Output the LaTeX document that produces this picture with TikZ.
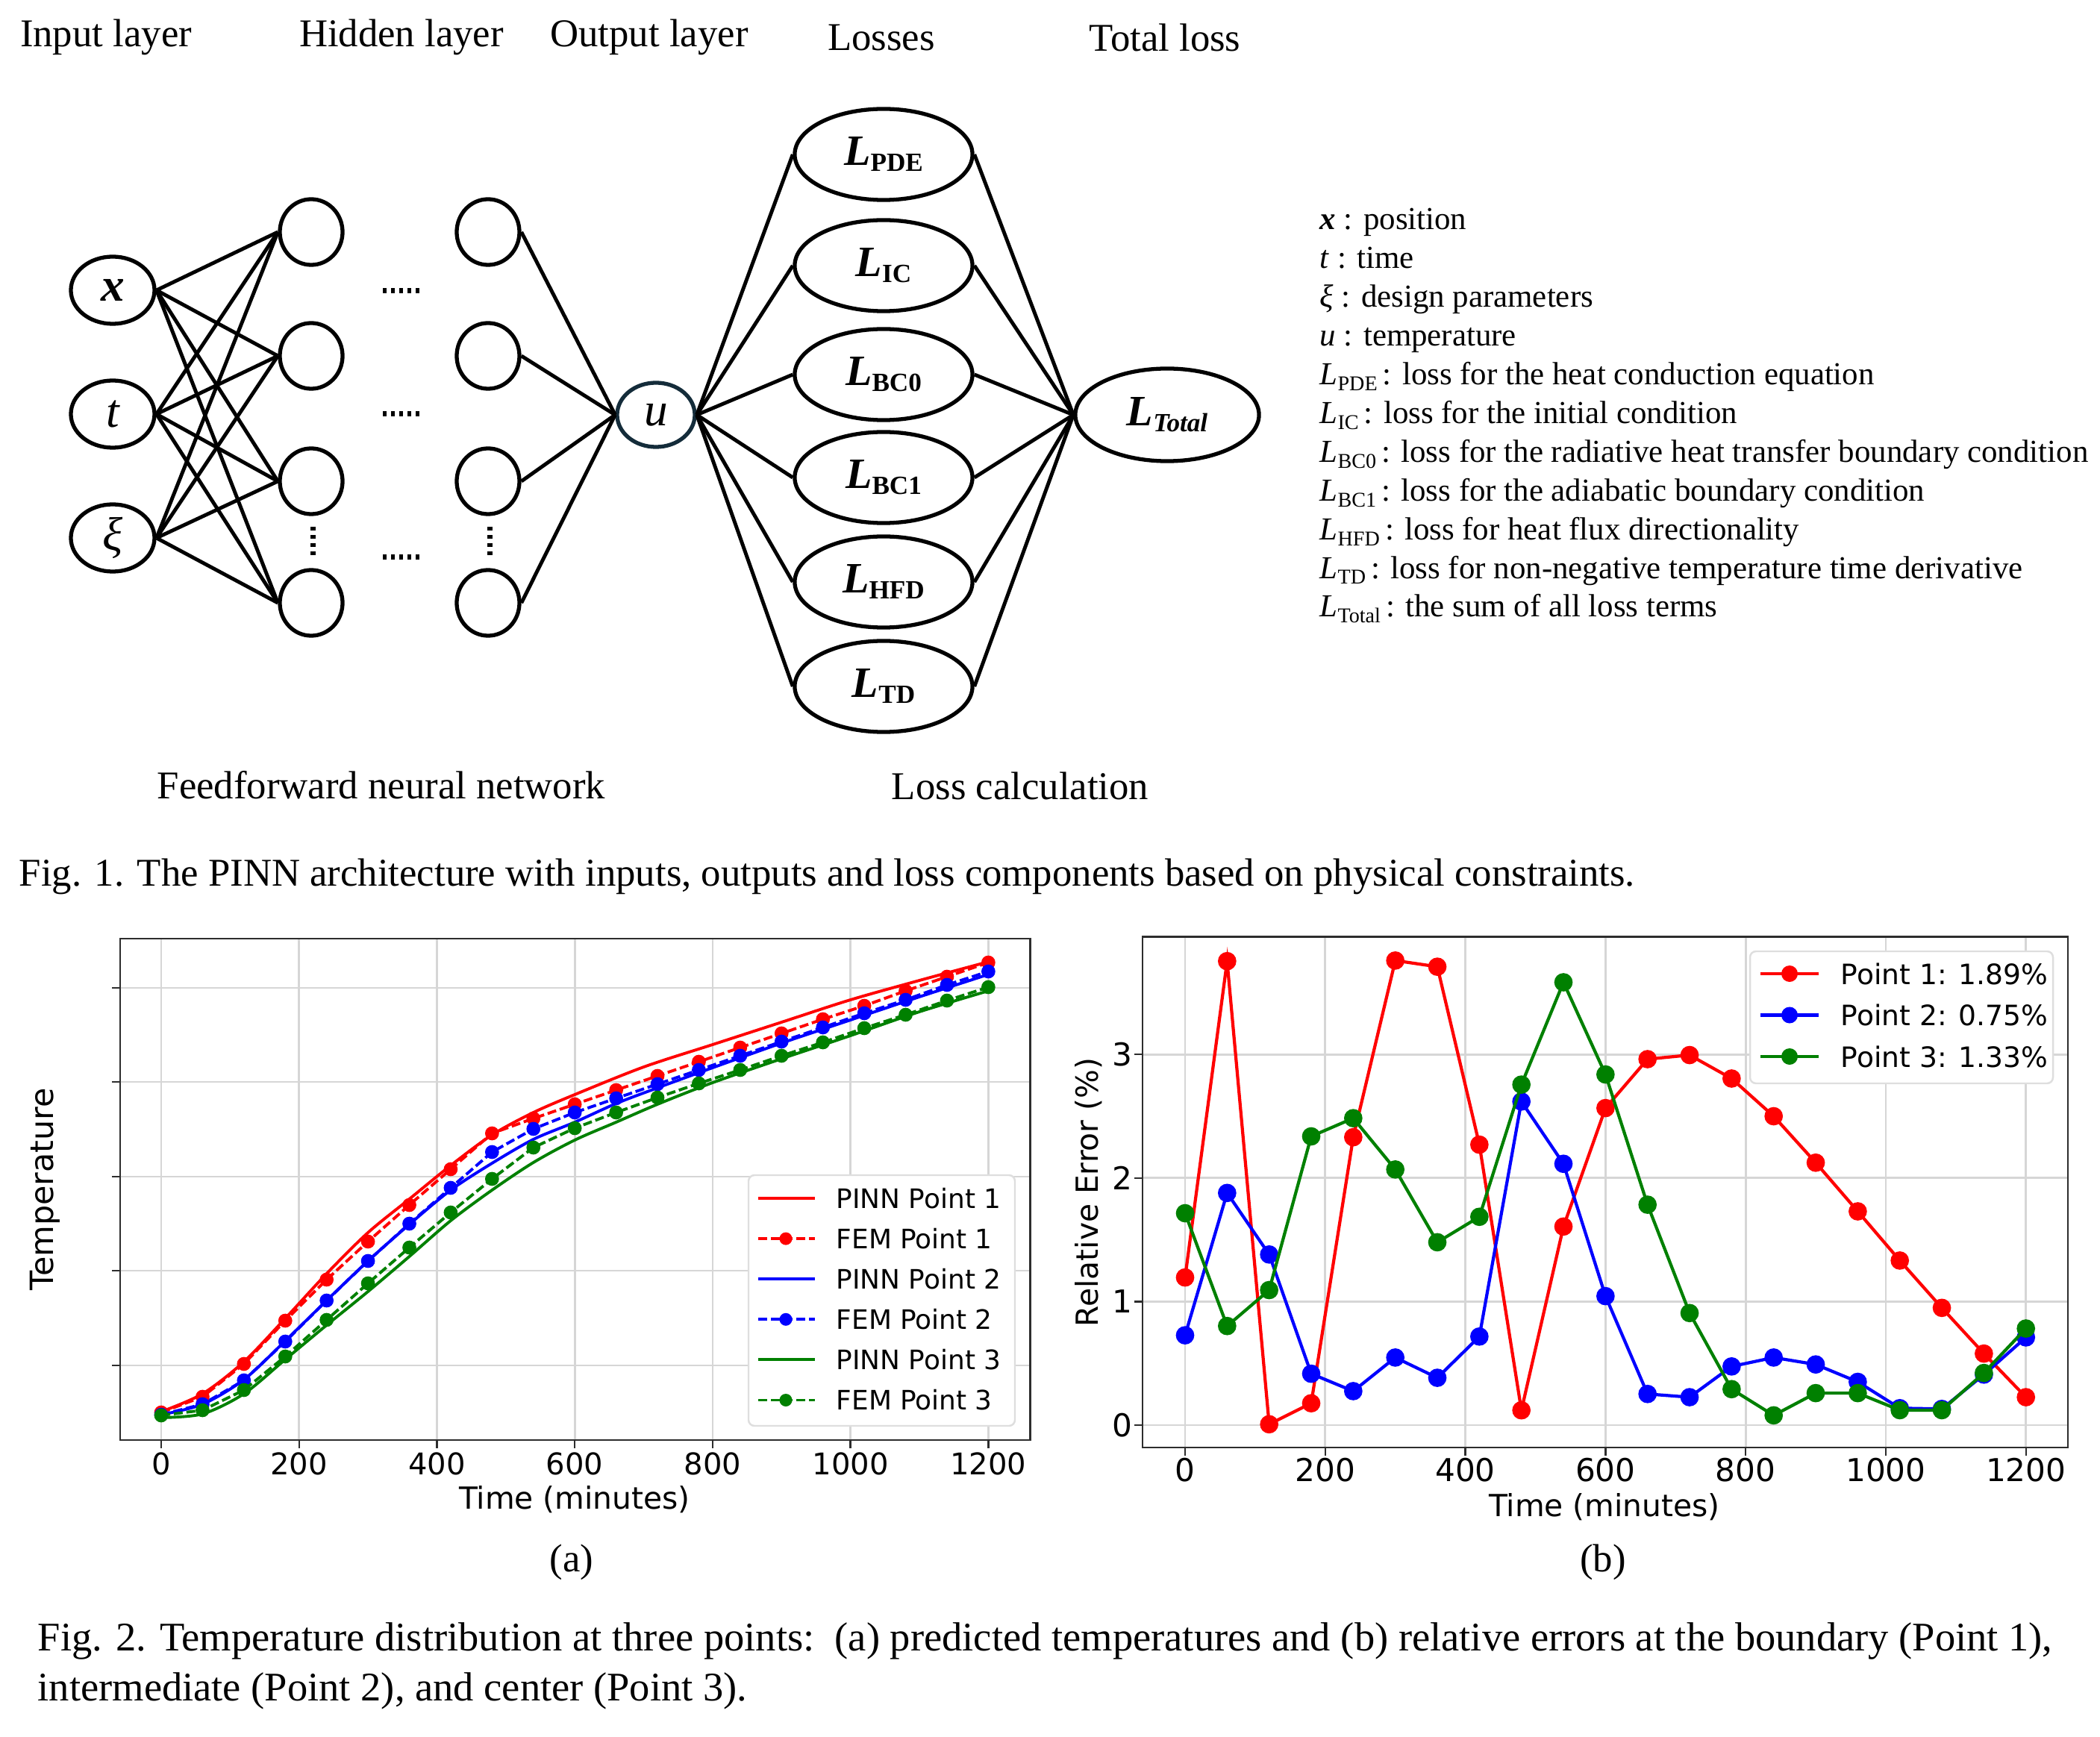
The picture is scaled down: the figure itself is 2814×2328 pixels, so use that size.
\documentclass[tikz,border=0pt]{standalone}
\usepackage{fontspec}
\setmainfont{Liberation Serif}
\newfontfamily\plotfont{DejaVu Sans}
\usetikzlibrary{shapes.geometric,positioning}

\definecolor{mplgreen}{RGB}{0,128,0}
\definecolor{gridgray}{RGB}{214,214,214}
\definecolor{axisgray}{RGB}{45,45,45}
\definecolor{outring}{RGB}{20,44,58}
\definecolor{legendgray}{RGB}{222,222,222}

\newcommand\lsub[1]{\raisebox{-.3ex}{\fontsize{10}{10}\selectfont\bfseries\upshape #1}}
\newcommand\dsub[1]{\raisebox{-.4ex}{\fontsize{8}{8}\selectfont\upshape #1}}

\tikzset{
    neuron/.style={draw, ellipse, line width=1.5pt, inner sep=0pt,
        minimum width=.84cm, minimum height=.88cm},
    input neuron/.style={neuron, minimum width=1.12cm, minimum height=.9cm,
        font=\fontsize{18}{18}\selectfont\itshape},
    loss term/.style={draw, ellipse, line width=1.5pt, inner sep=0pt,
        minimum width=2.38cm, minimum height=1.22cm,
        font=\fontsize{16.5}{16.5}\selectfont\bfseries\itshape},
    net link/.style={line width=1.4pt},
    layer title/.style={font=\fontsize{15}{18}\selectfont, inner sep=0pt},
    caption line/.style={font=\fontsize{15.5}{18}\selectfont, inner sep=0pt, anchor=base west},
    dots/.style={line width=.07cm, dash pattern=on .05cm off .06cm},
    grid line/.style={gridgray, line width=.8pt},
    axis frame/.style={axisgray, line width=.7pt},
    tick label/.style={font=\plotfont\fontsize{11.4}{12}\selectfont, inner sep=0pt},
    axis label/.style={font=\plotfont\fontsize{11.6}{12}\selectfont, inner sep=0pt},
    legend frame/.style={draw=legendgray, fill=white, rounded corners=.08cm, line width=.7pt},
    pinn/.style={line width=1.1pt},
    fem/.style={line width=1.1pt, dash pattern=on .12cm off .05cm,
        mark=*, mark size=2.1pt, mark options={solid}},
    err/.style={line width=1.2pt, mark=*, mark size=2.9pt},
}

\begin{document}
\begin{tikzpicture}[x=.01cm, y=-.01cm]
\useasboundingbox (0,0) rectangle (2814,2328);

% layer titles
\foreach \k/\xx/\txt in {1/142/Input layer, 2/538/Hidden layer, 3/870/Output layer, 4/1181/Losses, 5/1561/Total loss}
    \node[layer title] (title\k) at (\xx,50) {\txt};

% network
\node[input neuron] (x) at (151,389) {\bfseries x};
\node[input neuron] (t) at (151,555) {t};
\node[input neuron] (xi) at (151,721) {ξ};
\foreach \j/\yy in {1/311,2/477,3/645,4/808} {
    \node[neuron] (ha\j) at (417,\yy) {};
    \node[neuron] (hb\j) at (654,\yy) {};
}
\node[neuron, draw=outring, minimum width=1.04cm, minimum height=.86cm,
    font=\fontsize{18}{18}\selectfont\itshape] (u) at (879,556) {u};

\foreach \i in {x,t,xi}
    \foreach \j in {1,...,4}
        \draw[net link] (\i.east) -- (ha\j.west);
\foreach \j in {1,...,4}
    \draw[net link] (hb\j.east) -- (u.west);

\foreach \yy in {390,555,747}
    \draw[dots] (513,\yy) -- (566,\yy);
\foreach \xx in {419,656}
    \draw[dots] (\xx,706) -- (\xx,748);

% losses
\node[loss term, minimum width=2.46cm, minimum height=1.24cm] (total) at (1564,556) {L\lsub{\itshape Total}};
\foreach \n/\yy in {PDE/207,IC/356,BC0/502,BC1/640,HFD/780,TD/920} {
    \node[loss term] (l\n) at (1184,\yy) {L\lsub{\n}};
    \draw[net link] (u.east) -- (l\n.west);
    \draw[net link] (l\n.east) -- (total.west);
}

\node[layer title] (ffn) at (511,1052) {Feedforward neural network};
\node[layer title] (losscalc) at (1367,1053) {Loss calculation};

% notation
\foreach \i/\txt in {0/{\textbf{\textit{x}} : position},
        1/{\textit{t} : time},
        2/{\textit{ξ} : design parameters},
        3/{\textit{u} : temperature},
        4/{\textit{L}\dsub{PDE}\,: loss for the heat conduction equation},
        5/{\textit{L}\dsub{IC}\,: loss for the initial condition},
        6/{\textit{L}\dsub{BC0}\,: loss for the radiative heat transfer boundary condition},
        7/{\textit{L}\dsub{BC1}\,: loss for the adiabatic boundary condition},
        8/{\textit{L}\dsub{HFD}\,: loss for heat flux directionality},
        9/{\textit{L}\dsub{TD}\,: loss for non-negative temperature time derivative},
        10/{\textit{L}\dsub{Total}\,: the sum of all loss terms}}
    \node[anchor=base west, inner sep=0pt, font=\fontsize{12.2}{14}\selectfont] (note\i) at (1768,{308+51.9*\i}) {\txt};

\node[layer title, anchor=base west] (cap1) at (25,1187)
    {Fig. 1. The PINN architecture with inputs, outputs and loss components based on physical constraints.};

% plot (a)
\begin{scope}[shift={(216,0)}, x=.009225cm]
    \foreach \t in {0,200,...,1200} {
        \draw[grid line] (\t,1258) -- (\t,1930);
        \draw[axis frame] (\t,1930) -- (\t,1941);
        \node[tick label] (ta\t) at (\t,1962) {\t};
    }
    \foreach \yy in {1324,1450,1577,1703,1830} {
        \draw[grid line] (-59.6,\yy) -- (1260.7,\yy);
        \draw[axis frame] (-59.6,\yy) -- (-71.5,\yy);
    }
    \draw[pinn, red] plot[smooth] coordinates {(0,1892) (60,1868) (120,1825) (180,1767) (240,1707) (300,1652) (360,1607) (420,1562) (480,1521) (540,1491) (600,1467) (700,1430) (800,1400) (900,1370) (1000,1340) (1100,1314) (1200,1289)};
    \draw[fem, red] plot coordinates {(0,1893) (60,1872) (120,1828) (180,1770) (240,1715) (300,1664) (360,1615) (420,1567) (480,1519) (540,1499) (600,1480) (660,1461) (720,1442) (780,1423) (840,1404) (900,1385) (960,1366) (1020,1348) (1080,1328) (1140,1309) (1200,1290)};
    \draw[pinn, blue] plot[smooth] coordinates {(0,1896) (60,1882) (120,1849) (180,1797) (240,1743) (300,1690) (360,1641) (420,1595) (480,1559) (540,1527) (600,1504) (660,1479) (720,1458) (800,1431) (900,1398) (1000,1367) (1100,1336) (1200,1306)};
    \draw[fem, blue] plot coordinates {(0,1896) (60,1882) (120,1850) (180,1798) (240,1743) (300,1690) (360,1640) (420,1592) (480,1544) (540,1513) (600,1491) (660,1472) (720,1453) (780,1434) (840,1415) (900,1396) (960,1377) (1020,1358) (1080,1340) (1140,1320) (1200,1302)};
    \draw[pinn, mplgreen] plot[smooth] coordinates {(0,1900) (60,1895) (120,1868) (180,1822) (240,1776) (300,1731) (360,1684) (420,1636) (480,1595) (540,1558) (600,1528) (660,1504) (720,1480) (800,1451) (900,1419) (1000,1388) (1100,1356) (1200,1328)};
    \draw[fem, mplgreen] plot coordinates {(0,1897) (60,1890) (120,1863) (180,1818) (240,1769) (300,1720) (360,1672) (420,1625) (480,1580) (540,1538) (600,1512) (660,1491) (720,1471) (780,1452) (840,1434) (900,1415) (960,1397) (1020,1378) (1080,1360) (1140,1341) (1200,1323)};
    \draw[axis frame] (-59.6,1258) rectangle (1260.7,1930);
\end{scope}

% legend (a)
\draw[legend frame] (1003,1575) rectangle (1360,1911);
\foreach \k/\col/\lab in {0/red/PINN Point 1, 2/blue/PINN Point 2, 4/mplgreen/PINN Point 3} {
    \draw[pinn, \col] (1016,{1606+54.1*\k}) -- (1092,{1606+54.1*\k});
    \node[anchor=west, inner sep=0pt, font=\plotfont\fontsize{10.2}{11}\selectfont] (lega\k) at (1120,{1606+54.1*\k}) {\lab};
}
\foreach \k/\col/\lab in {1/red/FEM Point 1, 3/blue/FEM Point 2, 5/mplgreen/FEM Point 3} {
    \draw[pinn, \col, dash pattern=on .12cm off .05cm] (1016,{1606+54.1*\k}) -- (1092,{1606+54.1*\k});
    \fill[\col] (1053,{1606+54.1*\k}) circle (.085cm);
    \node[anchor=west, inner sep=0pt, font=\plotfont\fontsize{10.2}{11}\selectfont] (lega\k) at (1120,{1606+54.1*\k}) {\lab};
}
\node[axis label] (xlabela) at (770,2010) {Time (minutes)};
\node[axis label, rotate=90, font=\plotfont\fontsize{12.2}{12}\selectfont] (ylabela) at (60,1594) {Temperature};
\node[layer title] (suba) at (766,2094) {(a)};

% plot (b)
\begin{scope}[shift={(1588,1910)}, x=.00939cm, y=1.655cm]
    \foreach \t in {0,200,...,1200} {
        \draw[grid line] (\t,-0.181) -- (\t,3.952);
        \draw[axis frame] (\t,-0.181) -- (\t,-0.247);
        \node[tick label, font=\plotfont\fontsize{12}{12}\selectfont] (tb\t) at (\t,-0.3625) {\t};
    }
    \foreach \v in {0,1,2,3} {
        \draw[grid line] (-60.7,\v) -- (1259.8,\v);
        \draw[axis frame] (-60.7,\v) -- (-72.4,\v);
        \node[tick label, anchor=east, font=\plotfont\fontsize{12}{12}\selectfont] (vb\v) at (-74.5,\v) {\v};
    }
    \draw[err, red] plot coordinates {(0,1.195) (60,3.755) (120,0.007) (180,0.177) (240,2.33) (300,3.76) (360,3.71) (420,2.27) (480,0.12) (540,1.607) (600,2.566) (660,2.962) (720,2.995) (780,2.805) (840,2.50) (900,2.124) (960,1.73) (1020,1.332) (1080,0.949) (1140,0.579) (1200,0.226)};
    \draw[err, blue] plot coordinates {(0,0.727) (60,1.879) (120,1.381) (180,0.416) (240,0.275) (300,0.547) (360,0.383) (420,0.717) (480,2.619) (540,2.115) (600,1.044) (660,0.252) (720,0.226) (780,0.475) (840,0.547) (900,0.491) (960,0.350) (1020,0.137) (1080,0.131) (1140,0.409) (1200,0.710)};
    \draw[err, mplgreen] plot coordinates {(0,1.715) (60,0.802) (120,1.093) (180,2.337) (240,2.484) (300,2.069) (360,1.48) (420,1.686) (480,2.756) (540,3.584) (600,2.838) (660,1.784) (720,0.907) (780,0.291) (840,0.079) (900,0.259) (960,0.259) (1020,0.121) (1080,0.121) (1140,0.422) (1200,0.782)};
    \draw[axis frame] (-60.7,-0.181) rectangle (1259.8,3.952);
\end{scope}

% legend (b)
\draw[legend frame] (2345,1275) rectangle (2751,1452);
\foreach \k/\col/\lab in {0/red/Point 1: 1.89\%, 1/blue/Point 2: 0.75\%, 2/mplgreen/Point 3: 1.33\%} {
    \draw[line width=1.2pt, \col] (2359,{1305+55.5*\k}) -- (2437,{1305+55.5*\k});
    \fill[\col] (2398,{1305+55.5*\k}) circle (.11cm);
    \node[anchor=west, inner sep=0pt, font=\plotfont\fontsize{10.7}{11}\selectfont] (legb\k) at (2466,{1305+55.5*\k}) {\lab};
}
\node[axis label] (xlabelb) at (2150,2020) {Time (minutes)};
\node[axis label, rotate=90] (ylabelb) at (1459,1598) {Relative Error (\%)};
\node[layer title] (subb) at (2148,2094) {(b)};

\node[caption line] (cap2a) at (50,2212)
    {Fig. 2. Temperature distribution at three points:\ \ (a) predicted temperatures and (b) relative errors at the boundary (Point 1),};
\node[caption line] (cap2b) at (50,2279)
    {intermediate (Point 2), and center (Point 3).};
\end{tikzpicture}
\end{document}
